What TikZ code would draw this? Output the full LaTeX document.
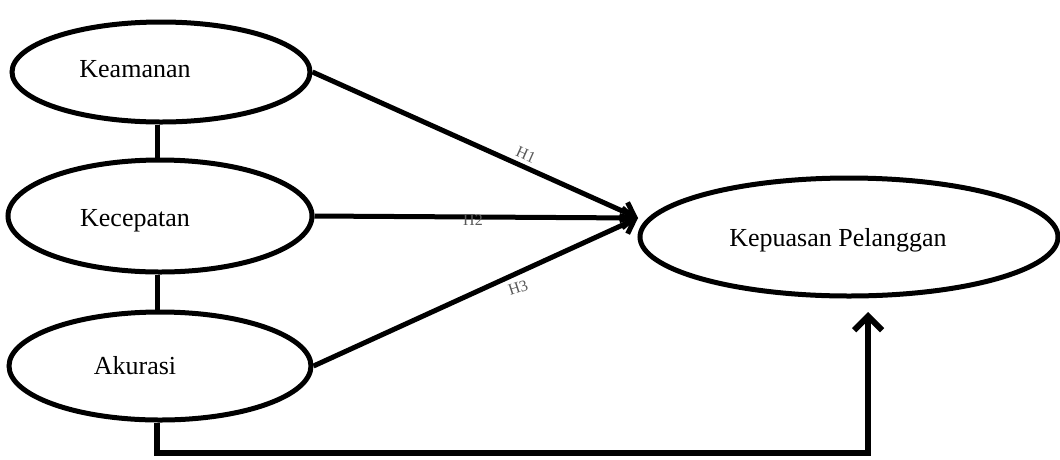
\documentclass[tikz,border=0pt]{standalone}
\usepackage{fontspec}
\setmainfont{Liberation Serif}
\usetikzlibrary{shapes.geometric,arrows.meta}
\begin{document}
\begin{tikzpicture}[x=1pt,y=-1pt,
  latent/.style={draw=black,line width=5pt,ellipse,inner sep=0pt,fill=white},
  lbl/.style={font=\fontsize{26}{30}\selectfont,anchor=base,inner sep=0pt},
  hyp/.style={font=\fontsize{16}{18}\selectfont,text=black!65,inner sep=0pt},
  conn/.style={line width=5pt},
  arr/.style={line width=5pt,-{Straight Barb[length=12pt,width=20pt,line width=5pt]}},
  barr/.style={line width=6pt,line join=miter,-{Straight Barb[length=14pt,width=28pt,line width=6pt]}}
]
\useasboundingbox (0,0) rectangle (1060,459);
% ellipses
\node[latent,minimum width=298pt,minimum height=100pt] (kea) at (161,72) {};
\node[latent,minimum width=304pt,minimum height=112pt] (kec) at (160,216) {};
\node[latent,minimum width=302pt,minimum height=108pt] (aku) at (160,366) {};
\node[latent,minimum width=418pt,minimum height=118pt] (kep) at (849,237) {};
% texts
\node[lbl] (keaT) at (135,77) {Keamanan};
\node[lbl] (kecT) at (135,226) {Kecepatan};
\node[lbl] (akuT) at (135,374) {Akurasi};
\node[lbl] (kepT) at (838,246) {Kepuasan Pelanggan};
% vertical links
\draw[conn] (kea.south -| 157,0) -- (kec.north -| 157,0);
\draw[conn] (kec.south -| 157,0) -- (aku.north -| 157,0);
% hypothesis paths
\coordinate (tip) at (638,218);
\draw[arr] (kea.east) -- (tip);
\draw[arr] (kec.east) -- (tip);
\draw[arr] (aku.east) -- (tip);
% labels
\node[hyp,rotate=-24] (h1) at (526,155) {H1};
\node[hyp] (h2) at (473,220) {H2};
\node[hyp,rotate=18] (h3) at (518,288) {H3};
% bottom path
\coordinate (btip) at (868,312);
\draw[barr] (aku.south -| 157,0) |- (868,453) -- (btip);
\end{tikzpicture}
\end{document}
